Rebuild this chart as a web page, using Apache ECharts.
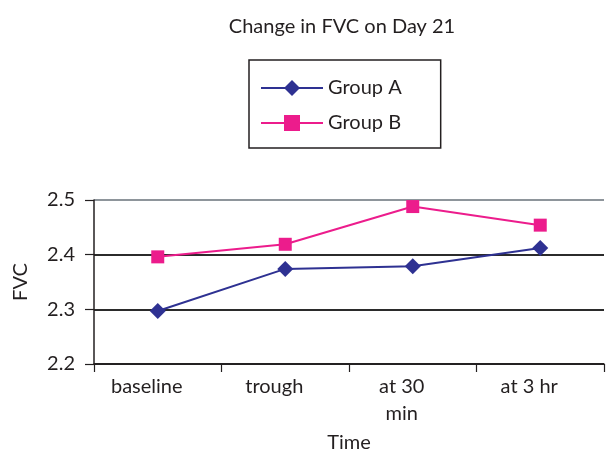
<!DOCTYPE html>
<html>
<head>
<meta charset="utf-8">
<script src="https://cdn.jsdelivr.net/npm/echarts@6/dist/echarts.min.js"></script>
<style>
  html, body { margin: 0; padding: 0; background: #fff; }
  #chart { width: 608px; height: 455px; }
</style>
</head>
<body>
<div id="chart"></div>
<script>
// Time points and FVC readings for each group
const categories = ['baseline', 'trough', 'at 30\nmin', 'at 3 hr'];
const groupA = [2.297, 2.374, 2.379, 2.412];
const groupB = [2.396, 2.419, 2.488, 2.454];
const yTicks = { min: 2.2, max: 2.5, step: 0.1 };

const FONT = 'Lato, "Noto Sans", sans-serif';
const TEXT = '#231f20';
const SIZE = 20;

const chart = echarts.init(document.getElementById('chart'), null, { renderer: 'canvas' });

chart.setOption({
  animation: false,
  backgroundColor: '#ffffff',
  textStyle: { fontFamily: FONT, color: TEXT },
  title: {
    text: 'Change in FVC on Day 21',
    left: 337,
    textAlign: 'center',
    top: 12,
    textStyle: { fontFamily: FONT, fontSize: SIZE, fontWeight: 'normal', color: TEXT }
  },
  legend: {
    orient: 'vertical',
    left: 249,
    top: 60,
    padding: [18, 39, 15, 11],
    itemWidth: 62,
    itemHeight: 20,
    itemGap: 15,
    borderColor: '#231f20',
    borderWidth: 1.5,
    textStyle: { fontFamily: FONT, fontSize: SIZE, color: TEXT },
    data: ['Group A', 'Group B']
  },
  grid: { left: 94, right: 4, top: 200, bottom: 91 },
  xAxis: {
    type: 'category',
    data: categories,
    boundaryGap: true,
    name: 'Time',
    nameLocation: 'middle',
    nameGap: 69,
    nameTextStyle: { fontFamily: FONT, fontSize: SIZE, color: TEXT },
    axisLine: { lineStyle: { color: '#231f20', width: 1.5 } },
    axisTick: { show: true, alignWithLabel: false, length: 8, lineStyle: { color: '#231f20', width: 1.2 } },
    axisLabel: {
      fontFamily: FONT, fontSize: SIZE, color: TEXT,
      margin: 9, lineHeight: 27, padding: [0, 22, 0, 0]
    },
    splitLine: { show: false }
  },
  yAxis: {
    type: 'value',
    min: yTicks.min,
    max: yTicks.max,
    interval: yTicks.step,
    name: 'FVC',
    nameLocation: 'middle',
    nameGap: 63,
    nameRotate: 90,
    nameTextStyle: { fontFamily: FONT, fontSize: SIZE, color: TEXT },
    axisLine: { show: true, lineStyle: { color: '#231f20', width: 1.5 } },
    axisTick: { show: true, length: 9, lineStyle: { color: '#231f20', width: 1.2 } },
    axisLabel: {
      fontFamily: FONT, fontSize: SIZE, color: TEXT, margin: 19,
      formatter: v => v.toFixed(1)
    },
    splitLine: {
      show: true,
      lineStyle: { color: ['#2b2b2b', '#2b2b2b', '#2b2b2b', '#8e959b'], width: 1.8 }
    }
  },
  series: [
    {
      name: 'Group A',
      type: 'line',
      data: groupA,
      symbol: 'diamond',
      symbolSize: 16,
      color: '#2e3192',
      lineStyle: { color: '#2e3192', width: 2 },
      itemStyle: { color: '#2e3192' }
    },
    {
      name: 'Group B',
      type: 'line',
      data: groupB,
      symbol: 'rect',
      symbolSize: 13,
      color: '#ec1c8c',
      lineStyle: { color: '#ec1c8c', width: 2 },
      itemStyle: { color: '#ec1c8c' }
    }
  ]
});
</script>
</body>
</html>
